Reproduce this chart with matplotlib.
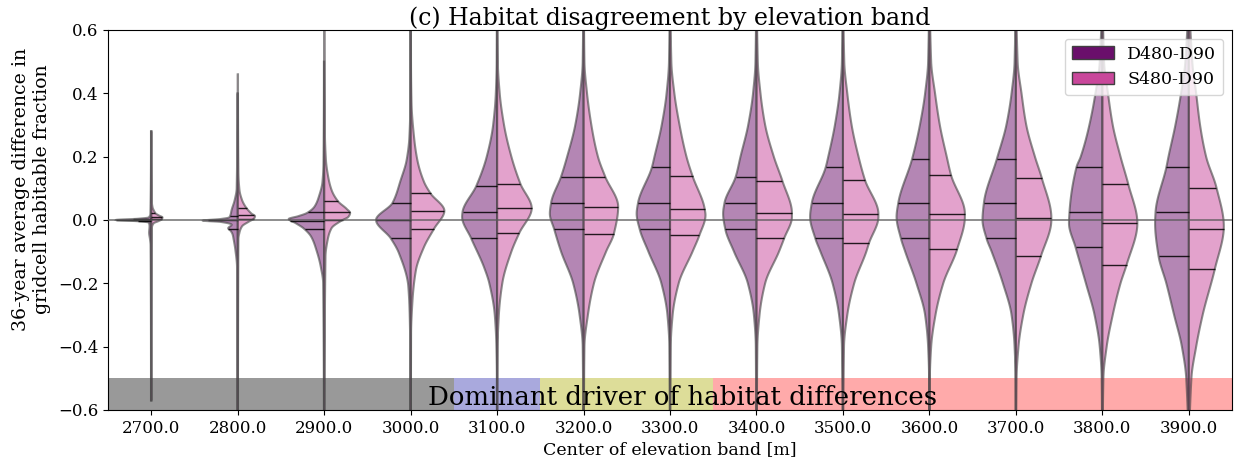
import numpy as np
import matplotlib
matplotlib.use("Agg")
import matplotlib.pyplot as plt
from matplotlib.patches import Polygon, Patch, Rectangle
from matplotlib.colors import to_rgba

plt.rcParams['font.family'] = ['DejaVu Serif']

# ---------------- data ----------------
bands = [2700.0, 2800.0, 2900.0, 3000.0, 3100.0, 3200.0, 3300.0,
         3400.0, 3500.0, 3600.0, 3700.0, 3800.0, 3900.0]
series = ["D480-D90", "S480-D90"]
series_colors = ["#6a0f6b", "#c9479b"]

# density profile (half-width): D480-D90
d_y = [
    [-0.08, -0.06, -0.04, -0.02, -0.008, -0.004, 0.0, 0.004, 0.008, 0.02],
    [-0.15, -0.095, -0.063, -0.045, -0.035, -0.026, -0.015, -0.006, -0.002, 0.003, 0.008, 0.015, 0.032, 0.063, 0.1],
    [-0.2, -0.147, -0.095, -0.053, -0.026, -0.01, 0.003, 0.012, 0.022, 0.043, 0.075, 0.12, 0.18],
    [-0.4, -0.31, -0.21, -0.105, -0.058, 0.0, 0.054, 0.126, 0.19, 0.26, 0.35],
    [-0.5, -0.4, -0.3, -0.2, -0.15, -0.058, 0.01, 0.025, 0.108, 0.2, 0.3, 0.4, 0.5],
    [-0.4, -0.3, -0.2, -0.1, -0.029, 0.02, 0.055, 0.137, 0.2, 0.3, 0.4, 0.5],
    [-0.4, -0.3, -0.2, -0.1, -0.03, 0.02, 0.054, 0.166, 0.2, 0.3, 0.4, 0.5],
    [-0.4, -0.3, -0.2, -0.1, -0.03, 0.02, 0.054, 0.137, 0.2, 0.3, 0.4, 0.5],
    [-0.4, -0.3, -0.2, -0.1, -0.058, 0.01, 0.054, 0.166, 0.2, 0.3, 0.4, 0.5],
    [-0.5, -0.4, -0.3, -0.2, -0.1, -0.058, 0.01, 0.054, 0.193, 0.3, 0.4, 0.5],
    [-0.5, -0.4, -0.3, -0.2, -0.1, -0.058, 0.0, 0.054, 0.193, 0.3, 0.4, 0.5],
    [-0.5, -0.4, -0.3, -0.2, -0.086, -0.01, 0.025, 0.166, 0.2, 0.3, 0.4, 0.5],
    [-0.5, -0.4, -0.3, -0.2, -0.114, -0.01, 0.024, 0.166, 0.2, 0.3, 0.4, 0.5],
]
d_w = [
    [0.008, 0.015, 0.025, 0.02, 0.03, 0.15, 0.41, 0.15, 0.03, 0.01],
    [0.008, 0.027, 0.046, 0.06, 0.08, 0.11, 0.07, 0.2, 0.405, 0.2, 0.1, 0.085, 0.07, 0.035, 0.012],
    [0.012, 0.04, 0.09, 0.15, 0.24, 0.33, 0.41, 0.3, 0.2, 0.11, 0.06, 0.02, 0.008],
    [0.005, 0.01, 0.027, 0.135, 0.23, 0.40, 0.21, 0.115, 0.046, 0.015, 0.005],
    [0.003, 0.008, 0.027, 0.09, 0.15, 0.30, 0.405, 0.40, 0.24, 0.12, 0.046, 0.015, 0.005],
    [0.01, 0.046, 0.12, 0.26, 0.34, 0.39, 0.375, 0.26, 0.19, 0.096, 0.04, 0.01],
    [0.008, 0.03, 0.1, 0.25, 0.35, 0.386, 0.37, 0.21, 0.18, 0.096, 0.04, 0.012],
    [0.008, 0.03, 0.1, 0.26, 0.36, 0.386, 0.37, 0.24, 0.185, 0.096, 0.04, 0.012],
    [0.012, 0.045, 0.12, 0.26, 0.32, 0.38, 0.36, 0.2, 0.17, 0.093, 0.04, 0.012],
    [0.004, 0.015, 0.05, 0.15, 0.28, 0.33, 0.38, 0.36, 0.2, 0.11, 0.05, 0.015],
    [0.004, 0.015, 0.05, 0.15, 0.28, 0.34, 0.386, 0.37, 0.22, 0.11, 0.05, 0.015],
    [0.008, 0.03, 0.09, 0.19, 0.31, 0.386, 0.38, 0.3, 0.25, 0.15, 0.08, 0.03],
    [0.03, 0.08, 0.17, 0.26, 0.35, 0.39, 0.385, 0.26, 0.235, 0.155, 0.09, 0.04],
]
d_quart = [
    [-0.004, 0.0, 0.003], [-0.028, 0.0, 0.012], [-0.03, -0.002, 0.024],
    [-0.058, 0.0, 0.054], [-0.058, 0.025, 0.108], [-0.029, 0.055, 0.137],
    [-0.03, 0.054, 0.166], [-0.03, 0.054, 0.137], [-0.058, 0.054, 0.166],
    [-0.058, 0.054, 0.193], [-0.058, 0.054, 0.193], [-0.086, 0.025, 0.166],
    [-0.114, 0.024, 0.166],
]
d_tail = [
    (-0.57, 0.28), (-0.75, 0.40), (-0.75, 0.50), (-0.75, 0.75), (-0.75, 0.75),
    (-0.75, 0.75), (-0.75, 0.75), (-0.75, 0.75), (-0.75, 0.75), (-0.75, 0.75),
    (-0.75, 0.75), (-0.75, 0.75), (-0.75, 0.75),
]

# density profile (half-width): S480-D90
s_y = [
    [-0.03, -0.02, -0.01, -0.004, 0.002, 0.008, 0.014, 0.021, 0.03, 0.04, 0.06],
    [-0.06, -0.04, -0.02, -0.005, 0.005, 0.012, 0.02, 0.042, 0.063, 0.095, 0.15],
    [-0.116, -0.063, -0.026, -0.002, 0.01, 0.022, 0.035, 0.059, 0.095, 0.137, 0.19, 0.28],
    [-0.36, -0.26, -0.16, -0.085, -0.028, 0.029, 0.084, 0.12, 0.19, 0.26, 0.37, 0.5],
    [-0.4, -0.3, -0.2, -0.1, -0.042, 0.037, 0.114, 0.2, 0.3, 0.4, 0.5],
    [-0.4, -0.3, -0.2, -0.1, -0.044, 0.042, 0.137, 0.2, 0.3, 0.4, 0.5],
    [-0.4, -0.3, -0.2, -0.1, -0.048, 0.015, 0.036, 0.139, 0.2, 0.3, 0.4, 0.5],
    [-0.4, -0.3, -0.2, -0.1, -0.058, 0.01, 0.021, 0.123, 0.2, 0.3, 0.4, 0.5],
    [-0.4, -0.3, -0.2, -0.1, -0.074, 0.01, 0.019, 0.126, 0.2, 0.3, 0.4, 0.5],
    [-0.5, -0.4, -0.3, -0.2, -0.093, 0.01, 0.02, 0.142, 0.2, 0.3, 0.4, 0.5],
    [-0.5, -0.4, -0.3, -0.2, -0.114, 0.0, 0.007, 0.132, 0.2, 0.3, 0.4, 0.5],
    [-0.5, -0.4, -0.3, -0.2, -0.142, -0.01, 0.113, 0.2, 0.3, 0.4, 0.5],
    [-0.5, -0.4, -0.3, -0.156, -0.02, 0.102, 0.2, 0.3, 0.4, 0.5],
]
s_w = [
    [0.005, 0.01, 0.03, 0.08, 0.12, 0.13, 0.09, 0.05, 0.03, 0.015, 0.006],
    [0.008, 0.02, 0.05, 0.13, 0.19, 0.2, 0.16, 0.09, 0.05, 0.02, 0.008],
    [0.015, 0.04, 0.085, 0.2, 0.28, 0.3, 0.26, 0.16, 0.085, 0.046, 0.02, 0.008],
    [0.005, 0.02, 0.06, 0.155, 0.27, 0.39, 0.23, 0.155, 0.077, 0.04, 0.01, 0.004],
    [0.006, 0.02, 0.06, 0.165, 0.255, 0.40, 0.27, 0.165, 0.08, 0.03, 0.008],
    [0.01, 0.05, 0.12, 0.26, 0.35, 0.40, 0.25, 0.166, 0.09, 0.04, 0.01],
    [0.008, 0.03, 0.1, 0.26, 0.34, 0.41, 0.40, 0.26, 0.19, 0.11, 0.05, 0.015],
    [0.01, 0.035, 0.1, 0.26, 0.32, 0.41, 0.41, 0.30, 0.2, 0.1, 0.046, 0.015],
    [0.012, 0.05, 0.13, 0.27, 0.30, 0.41, 0.41, 0.255, 0.18, 0.1, 0.05, 0.015],
    [0.005, 0.02, 0.07, 0.16, 0.32, 0.41, 0.41, 0.25, 0.2, 0.12, 0.065, 0.02],
    [0.008, 0.03, 0.085, 0.18, 0.29, 0.41, 0.41, 0.30, 0.22, 0.12, 0.065, 0.02],
    [0.012, 0.05, 0.12, 0.21, 0.28, 0.405, 0.30, 0.21, 0.12, 0.065, 0.02],
    [0.03, 0.085, 0.16, 0.3, 0.405, 0.32, 0.2, 0.13, 0.085, 0.04],
]
s_quart = [
    [0.002, 0.008, 0.022], [0.003, 0.016, 0.037], [0.0, 0.024, 0.059],
    [-0.028, 0.029, 0.084], [-0.042, 0.037, 0.114], [-0.044, 0.042, 0.137],
    [-0.048, 0.036, 0.139], [-0.058, 0.021, 0.123], [-0.074, 0.019, 0.126],
    [-0.093, 0.02, 0.142], [-0.114, 0.007, 0.132], [-0.142, -0.008, 0.113],
    [-0.156, -0.027, 0.102],
]
s_tail = [
    (-0.57, 0.28), (-0.75, 0.46), (-0.75, 0.75), (-0.75, 0.75), (-0.75, 0.75),
    (-0.75, 0.75), (-0.75, 0.75), (-0.75, 0.75), (-0.75, 0.75), (-0.75, 0.75),
    (-0.75, 0.75), (-0.75, 0.75), (-0.75, 0.75),
]

# dominant driver category for each elevation band
dominant_driver = [0, 0, 0, 0, 1, 2, 2, 3, 3, 3, 3, 3, 3]
driver_colors = ["#999999", "#a9a9dd", "#dddd99", "#ffaaaa"]

TAIL_W = 0.003


def pchip(x, y, xn):
    x = np.asarray(x, float)
    y = np.asarray(y, float)
    h = np.diff(x)
    d = np.diff(y) / h
    m = np.zeros_like(y)
    for k in range(1, len(x) - 1):
        if d[k - 1] * d[k] > 0:
            w1 = 2 * h[k] + h[k - 1]
            w2 = h[k] + 2 * h[k - 1]
            m[k] = (w1 + w2) / (w1 / d[k - 1] + w2 / d[k])
    m[0] = 0.0
    m[-1] = 0.0
    idx = np.clip(np.searchsorted(x, xn) - 1, 0, len(h) - 1)
    t = (xn - x[idx]) / h[idx]
    h00 = 2 * t**3 - 3 * t**2 + 1
    h10 = t**3 - 2 * t**2 + t
    h01 = -2 * t**3 + 3 * t**2
    h11 = t**3 - t**2
    return (h00 * y[idx] + h10 * h[idx] * m[idx]
            + h01 * y[idx + 1] + h11 * h[idx] * m[idx + 1])


def draw_half(ax, c, ys, ws, tail, quart, color, sgn):
    yy = [tail[0]] + list(ys) + [tail[1]]
    ww = [TAIL_W] + list(ws) + [TAIL_W]
    yd = np.linspace(tail[0], tail[1], 5000)
    wd = np.clip(pchip(yy, ww, yd), 0, None)
    verts = np.column_stack([c + sgn * wd, yd])
    verts = np.vstack([verts, [[c, tail[1]], [c, tail[0]]]])
    ax.add_patch(Polygon(verts, closed=True,
                         facecolor=to_rgba(color, 0.5),
                         edgecolor=(0.26, 0.26, 0.26, 0.6),
                         lw=1.5, zorder=2))
    for qv in quart:
        wq = max(pchip(yy, ww, np.array([qv]))[0], 0)
        ax.plot([c, c + sgn * wq], [qv, qv], color="black", lw=1.0,
                alpha=0.85, zorder=3, solid_capstyle="butt")


fig = plt.figure(figsize=(12.36, 4.70), dpi=100)
ax = fig.add_axes([0.0874, 0.1277, 0.9094, 0.8085])
ax.set_xlim(-0.5, 12.5)
ax.set_ylim(-0.6, 0.6)

# dominant driver strip
start = 0
for i in range(1, len(bands) + 1):
    if i == len(bands) or dominant_driver[i] != dominant_driver[start]:
        ax.add_patch(Rectangle((start - 0.5, -0.6), i - start, 0.1,
                               facecolor=driver_colors[dominant_driver[start]],
                               edgecolor="none", zorder=1))
        start = i

for i in range(len(bands)):
    draw_half(ax, i, d_y[i], d_w[i], d_tail[i], d_quart[i], series_colors[0], -1)
    draw_half(ax, i, s_y[i], s_w[i], s_tail[i], s_quart[i], series_colors[1], +1)

ax.axhline(0, color="0.35", lw=1.2, alpha=0.8, zorder=4)

ax.text(6.15, -0.562, "Dominant driver of habitat differences", ha="center",
        va="center", fontsize=18.7, zorder=5)

ax.set_xticks(range(len(bands)))
ax.set_xticklabels([f"{b:.1f}" for b in bands], fontsize=12)
ax.set_yticks([-0.6, -0.4, -0.2, 0.0, 0.2, 0.4, 0.6])
ax.set_yticklabels(["\u22120.6", "\u22120.4", "\u22120.2", "0.0", "0.2", "0.4", "0.6"], fontsize=12)
ax.set_xlabel("Center of elevation band [m]", fontsize=12.5, labelpad=3)
ax.set_ylabel("36-year average difference in\ngridcell habitable fraction", fontsize=13.6)
ax.yaxis.set_label_coords(-0.051, 0.58)
ax.set_title("(c) Habitat disagreement by elevation band", fontsize=17, pad=3)

handles = [Patch(facecolor=series_colors[k], edgecolor="0.25", label=series[k])
           for k in range(2)]
ax.legend(handles=handles, loc="upper right", fontsize=12.5, handlelength=2.4,
          framealpha=0.8)

fig.savefig("out.png", dpi=100)
